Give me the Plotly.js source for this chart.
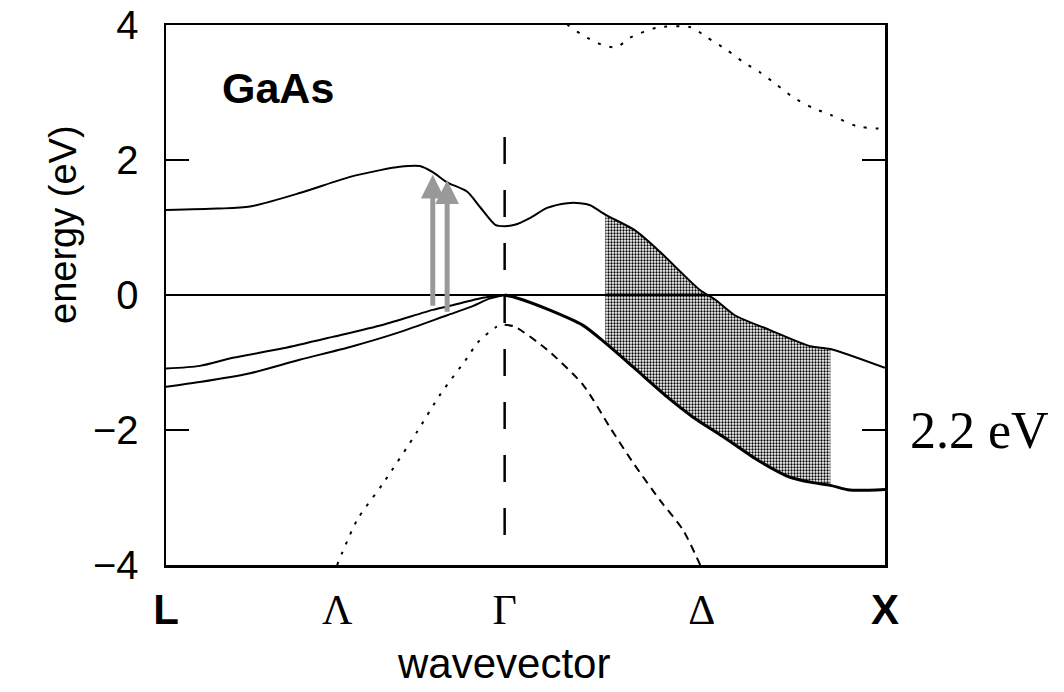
<!DOCTYPE html>
<html>
<head>
<meta charset="utf-8">
<script src="https://cdn.plot.ly/plotly-3.0.1.min.js"></script>
<style>html,body{margin:0;padding:0;background:#fff;}#chart{width:1064px;height:692px;}</style>
</head>
<body>
<div id="chart"></div>
<script>
// k: fraction of path L -> Gamma -> X ; E: energy in eV
const kTicks = [0, 0.238, 0.471, 0.745, 1];
const kLabels = ['L', 'Λ', 'Γ', 'Δ', 'X'];
const eTicks = [-4, -2, 0, 2, 4];

// conduction band (solid, upper)
const cbK = [0, 0.072, 0.117, 0.186, 0.256, 0.298, 0.325, 0.353, 0.371, 0.391, 0.419, 0.437, 0.458, 0.471, 0.485, 0.506, 0.530, 0.558, 0.576, 0.590, 0.611, 0.652, 0.687, 0.743, 0.764, 0.791, 0.840, 0.896, 0.924, 1.0];
const cbE = [1.26, 1.28, 1.31, 1.51, 1.75, 1.85, 1.90, 1.91, 1.82, 1.67, 1.53, 1.30, 1.04, 1.02, 1.04, 1.14, 1.29, 1.36, 1.36, 1.33, 1.19, 0.96, 0.64, 0.07, -0.07, -0.30, -0.52, -0.76, -0.80, -1.08];

// flat band at 0
const flatK = [0, 1];
const flatE = [0, 0];

// upper conduction band (dotted)
const cb2K = [0.548, 0.559, 0.586, 0.608, 0.627, 0.645, 0.683, 0.729, 0.752, 0.780, 0.803, 0.826, 0.850, 0.872, 0.900, 0.924, 0.961, 1.0];
const cb2E = [4.15, 4.0, 3.81, 3.70, 3.67, 3.81, 3.96, 3.97, 3.82, 3.63, 3.45, 3.30, 3.11, 2.93, 2.77, 2.67, 2.50, 2.46];

// valence bands L -> Gamma
const vb1K = [0, 0.047, 0.093, 0.163, 0.232, 0.302, 0.371, 0.395, 0.441, 0.471];
const vb1E = [-1.09, -1.05, -0.93, -0.79, -0.62, -0.44, -0.22, -0.16, -0.04, 0];
const vb2K = [0, 0.047, 0.117, 0.186, 0.256, 0.325, 0.391, 0.423, 0.451, 0.471];
const vb2E = [-1.36, -1.29, -1.16, -0.96, -0.77, -0.55, -0.30, -0.18, -0.05, 0];

// valence band Gamma -> X (thick)
const vb3K = [0.471, 0.487, 0.533, 0.580, 0.611, 0.650, 0.697, 0.733, 0.775, 0.822, 0.868, 0.900, 0.924, 0.951, 1.0];
const vb3E = [0, -0.04, -0.22, -0.45, -0.71, -1.07, -1.51, -1.81, -2.10, -2.44, -2.70, -2.78, -2.82, -2.89, -2.88];

// split-off band (dashed)
const soLeftK = [0.238, 0.266, 0.302, 0.349, 0.381, 0.419, 0.433, 0.460, 0.471];
const soLeftE = [-4.0, -3.33, -2.79, -2.03, -1.48, -0.93, -0.71, -0.47, -0.44];
const soRightK = [0.471, 0.485, 0.530, 0.580, 0.618, 0.650, 0.687, 0.719, 0.743];
const soRightE = [-0.44, -0.47, -0.81, -1.33, -1.97, -2.49, -3.04, -3.48, -4.0];

// Gamma marker line
const gammaK = [0.471, 0.471];
const gammaE = [2.34, -3.6];

// shaded region bounds
const shadeStart = 0.611, shadeEnd = 0.924;

// optical transition arrows
const arrowK = [0.371, 0.391];
const arrowFromE = [-0.18, -0.27];
const arrowToE = [1.78, 1.70];

// build shaded polygon from band arrays
const topK = [], topE = [], botK = [], botE = [];
cbK.forEach((k, i) => { if (k >= shadeStart - 1e-9 && k <= shadeEnd + 1e-9) { topK.push(k); topE.push(cbE[i]); } });
vb3K.forEach((k, i) => { if (k >= shadeStart - 1e-9 && k <= shadeEnd + 1e-9) { botK.push(k); botE.push(vb3E[i]); } });
const shadeK = topK.concat(botK.slice().reverse());
const shadeE = topE.concat(botE.slice().reverse());

const line = (x, y, w, dash, smooth) => ({x, y, type: 'scatter', mode: 'lines',
  line: {color: 'black', width: w, dash: dash || 'solid', shape: smooth ? 'spline' : 'linear', smoothing: 0.7},
  hoverinfo: 'skip', showlegend: false});

const traces = [
  {x: shadeK, y: shadeE, type: 'scatter', mode: 'lines', fill: 'toself', line: {width: 0, color: 'rgba(0,0,0,0)'},
   fillcolor: '#8a8a8a', fillpattern: {shape: '.', size: 3, solidity: 0.45, fgcolor: '#000', bgcolor: '#fff'}, hoverinfo: 'skip', showlegend: false},
  line(flatK, flatE, 2),
  line(cbK, cbE, 2, 'solid', true),
  line(cb2K, cb2E, 2, '3px,9px', true),
  line(vb1K, vb1E, 2, 'solid', true),
  line(vb2K, vb2E, 2, 'solid', true),
  line(vb3K, vb3E, 3, 'solid', true),
  line(soLeftK, soLeftE, 2, '3px,8px', true),
  line(soRightK, soRightE, 2, '8px,6px', true),
  line(gammaK, gammaE, 2.5, '27px,26px')
];

const serif = 'Liberation Serif, Times New Roman, serif';
const sans = 'Liberation Sans, Arial, sans-serif';
const greek = new Set(['Λ', 'Γ', 'Δ']);
const tickText = kLabels.map(s => greek.has(s) ? '<span style="font-family:' + serif + ';font-weight:normal">' + s + '</span>' : '<b>' + s + '</b>');

const annotations = [
  {x: 0.156, y: 3.07, xref: 'x', yref: 'y', text: '<b>GaAs</b>', showarrow: false, font: {family: sans, size: 43, color: 'black'}},
  {x: 1.032, y: -2.0, xref: 'paper', yref: 'y', xanchor: 'left', text: '2.2 eV', showarrow: false, font: {family: serif, size: 52, color: 'black'}},
  {x: 0.47, y: -0.183, xref: 'paper', yref: 'paper', yanchor: 'middle', text: 'wavevector', showarrow: false, font: {family: sans, size: 42, color: 'black'}},
  {x: -0.175, y: 1.04, xref: 'paper', yref: 'y', textangle: -90, text: 'energy (eV)', showarrow: false, font: {family: sans, size: 38, color: 'black'}}
];
arrowK.forEach((k, i) => {
  annotations.push({x: k, y: arrowToE[i], ax: k, ay: arrowFromE[i], xref: 'x', yref: 'y', axref: 'x', ayref: 'y',
    text: '', showarrow: true, arrowhead: 2, arrowsize: 0.95, arrowwidth: 5, arrowcolor: '#999'});
});

const layout = {
  width: 1064, height: 692,
  margin: {l: 166, r: 179, t: 25, b: 127},
  paper_bgcolor: 'white', plot_bgcolor: 'white',
  showlegend: false,
  xaxis: {range: [0, 1], tickvals: kTicks, ticktext: tickText, ticks: '', showgrid: false, zeroline: false,
    showline: true, mirror: true, linecolor: 'black', linewidth: 2.5, ticklabelstandoff: 6,
    tickfont: {family: sans, size: 42, color: 'black'}, automargin: false, fixedrange: true},
  yaxis: {range: [-4, 4], tickvals: eTicks, ticks: 'inside', ticklen: 23, tickwidth: 2, tickcolor: 'black', showgrid: false, zeroline: false,
    showline: true, mirror: 'ticks', linecolor: 'black', linewidth: 2.5, ticklabelstandoff: 17,
    tickfont: {family: sans, size: 40, color: 'black'}, automargin: false, fixedrange: true},
  annotations: annotations
};

Plotly.newPlot('chart', traces, layout, {staticPlot: true, displayModeBar: false});
</script>
</body>
</html>
